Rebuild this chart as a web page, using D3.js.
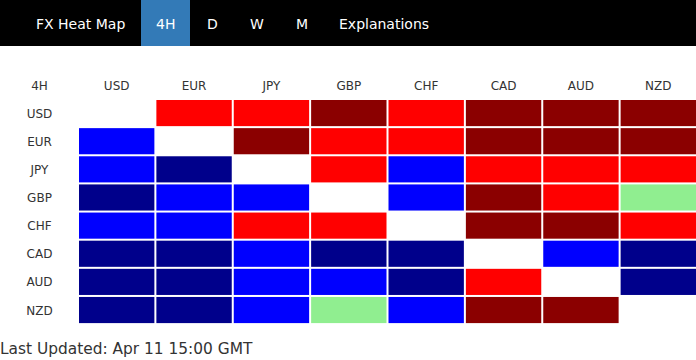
<!DOCTYPE html>
<html>
<head>
<meta charset="utf-8">
<script src="https://cdn.jsdelivr.net/npm/d3@7"></script>
<style>
html,body{margin:0;padding:0;background:#fff;}
svg{display:block;font-family:"DejaVu Sans",Verdana,sans-serif;}
</style>
</head>
<body>
<div id="chart"></div>
<script>
const navItems = ["FX Heat Map", "4H", "D", "W", "M", "Explanations"];
const activeTab = "4H";
const currencies = ["USD", "EUR", "JPY", "GBP", "CHF", "CAD", "AUD", "NZD"];
// strength levels: -2 strong down, -1 down, 0 same (diagonal), 1 up, 2 strong up, "n" neutral
const rowUSD = [0, 1, 1, 2, 1, 2, 2, 2];
const rowEUR = [-1, 0, 2, 1, 1, 2, 2, 2];
const rowJPY = [-1, -2, 0, 1, -1, 1, 1, 1];
const rowGBP = [-2, -1, -1, 0, -1, 2, 1, "n"];
const rowCHF = [-1, -1, 1, 1, 0, 2, 2, 1];
const rowCAD = [-2, -2, -1, -2, -2, 0, -1, -2];
const rowAUD = [-2, -2, -1, -1, -2, 1, 0, -2];
const rowNZD = [-2, -2, -1, "n", -1, 2, 2, 0];
const rows = [rowUSD, rowEUR, rowJPY, rowGBP, rowCHF, rowCAD, rowAUD, rowNZD];
const updated = "Last Updated: Apr 11 15:00 GMT";

const W = 696, H = 360;
const svg = d3.select("#chart").append("svg").attr("width", W).attr("height", H);

// nav bar
svg.append("rect").attr("x", 0).attr("y", 0).attr("width", W).attr("height", 46).attr("fill", "#000");
const navX = [36, 156, 207, 250, 296, 339];
const navFont = 14;
navItems.forEach((t, i) => {
  if (t === activeTab) {
    svg.append("rect").attr("x", 141).attr("y", 0).attr("width", 49).attr("height", 46).attr("fill", "#337ab7");
  }
});
svg.append("g").selectAll("text").data(navItems).join("text")
  .attr("x", (d, i) => navX[i]).attr("y", 29)
  .attr("fill", "#fff").attr("font-size", navFont).text(d => d);

const color = d3.scaleOrdinal()
  .domain([-2, -1, 0, 1, 2, "n"])
  .range(["#00008b", "#0000ff", "#ffffff", "#ff0000", "#8b0000", "#90ee90"]);

const x = d3.scaleBand().domain(currencies).range([79, 698]);
const y = d3.scaleBand().domain(currencies).range([100, 325.1]);
const gap = 2;

const cells = [];
rows.forEach((r, i) => r.forEach((v, j) => cells.push({row: currencies[i], col: currencies[j], v})));

svg.append("g").selectAll("rect").data(cells).join("rect")
  .attr("x", d => x(d.col)).attr("y", d => y(d.row))
  .attr("width", x.bandwidth() - gap).attr("height", y.bandwidth() - gap)
  .attr("fill", d => color(d.v));

const tfs = 12;
// header row
svg.append("text").attr("x", 39.5).attr("y", 90).attr("text-anchor", "middle")
  .attr("font-size", tfs).attr("fill", "#333").text(activeTab);
svg.append("g").selectAll("text").data(currencies).join("text")
  .attr("x", d => x(d) + (x.bandwidth() - gap) / 2).attr("y", 90)
  .attr("text-anchor", "middle").attr("font-size", tfs).attr("fill", "#333").text(d => d);
// row labels
svg.append("g").selectAll("text").data(currencies).join("text")
  .attr("x", 39.5).attr("y", d => y(d) + (y.bandwidth() - gap) / 2 + 4.5)
  .attr("text-anchor", "middle").attr("font-size", tfs).attr("fill", "#333").text(d => d);

svg.append("text").attr("x", 0).attr("y", 354).attr("font-size", 15.4).attr("fill", "#333").text(updated);
</script>
</body>
</html>
